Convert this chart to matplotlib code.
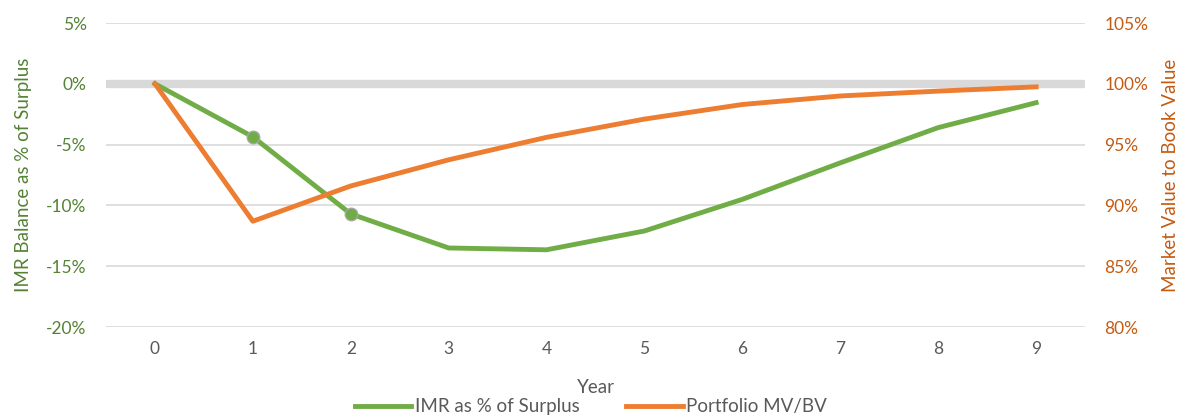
import numpy as np
import matplotlib.pyplot as plt
from matplotlib.ticker import FuncFormatter

plt.rcParams['font.family'] = ['Lato', 'DejaVu Sans']

years = [0, 1, 2, 3, 4, 5, 6, 7, 8, 9]
imr_pct = [0.0, -4.36, -10.7, -13.5, -13.65, -12.1, -9.5, -6.5, -3.6, -1.55]
mv_bv = [100.0, 88.7, 91.6, 93.75, 95.6, 97.1, 98.3, 99.0, 99.4, 99.75]

green = '#70AD47'
orange = '#ED7D31'
green_txt = '#548235'
orange_txt = '#C55A11'
gray_txt = '#595959'

fig = plt.figure(figsize=(11.82, 4.17), dpi=100)
ax = fig.add_axes([0.0897, 0.2158, 0.8283, 0.729])
ax2 = ax.twinx()

ax.set_xlim(-0.5, 9.5)
ax.set_ylim(-20, 5)
ax2.set_ylim(80, 105)

ax.set_yticks(np.arange(-20, 6, 5))
ax2.set_yticks(np.arange(80, 106, 5))
for v in np.arange(-20, 6, 5):
    if v == 0:
        continue
    ax.axhline(v, color='#D9D9D9', lw=1.2, zorder=0)
ax.axhline(0, color='#D9D9D9', lw=6, zorder=0)

ax.plot(years, imr_pct, color=green, lw=3.5, zorder=3, label='IMR as % of Surplus')
ax.plot(years[1:3], imr_pct[1:3], 'o', color=green, markersize=9,
        markeredgecolor='#A5A5A5', markeredgewidth=1, zorder=4)
ax2.plot(years, mv_bv, color=orange, lw=3.5, zorder=3, label='Portfolio MV/BV')

ax.yaxis.set_major_formatter(FuncFormatter(lambda v, p: '%d%%' % v))
ax2.yaxis.set_major_formatter(FuncFormatter(lambda v, p: '%d%%' % v))
ax.set_xticks(years)

for a in (ax, ax2):
    for s in a.spines.values():
        s.set_visible(False)
    a.tick_params(length=0, labelsize=12.5)
ax.tick_params(axis='y', colors=green_txt, pad=14)
ax.tick_params(axis='x', colors=gray_txt, pad=10)
ax2.tick_params(axis='y', colors=orange_txt, pad=14)

ax.set_ylabel('IMR Balance as % of Surplus', color=green_txt, fontsize=13.5, labelpad=10)
ax2.set_ylabel('Market Value to Book Value', color=orange_txt, fontsize=13.5, labelpad=10)
ax.set_xlabel('Year', color=gray_txt, fontsize=13.5, labelpad=16)

h1, l1 = ax.get_legend_handles_labels()
h2, l2 = ax2.get_legend_handles_labels()
fig.legend(h1 + h2, l1 + l2, loc='center', bbox_to_anchor=(0.5, 0.025), ncol=2,
           frameon=False, fontsize=13.5, handlelength=3, columnspacing=2.5,
           labelcolor=gray_txt, handletextpad=0.2)

fig.savefig('out.png', dpi=100)
